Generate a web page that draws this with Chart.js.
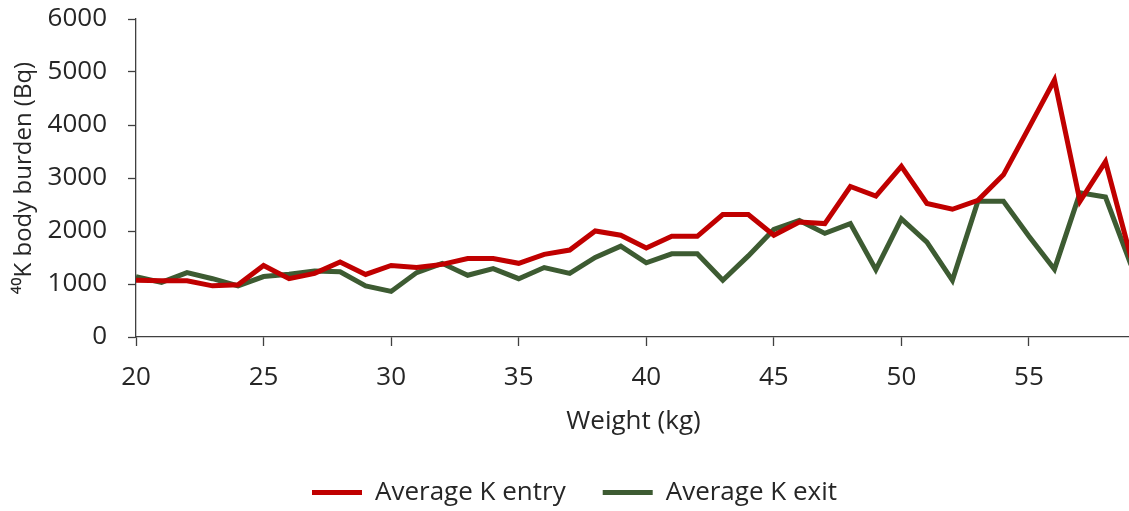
<!DOCTYPE html>
<html>
<head>
<meta charset="utf-8">
<script src="https://cdn.jsdelivr.net/npm/chart.js@4/dist/chart.umd.min.js"></script>
<style>
  html, body { margin: 0; padding: 0; background: #ffffff; overflow: hidden; }
  #wrap { position: relative; width: 1133px; height: 511px; }
</style>
</head>
<body>
<div id="wrap"><canvas id="chart"></canvas></div>
<script>
// Body weight (kg) for each group
const weights = [20, 21, 22, 23, 24, 25, 26, 27, 28, 29,
                 30, 31, 32, 33, 34, 35, 36, 37, 38, 39,
                 40, 41, 42, 43, 44, 45, 46, 47, 48, 49,
                 50, 51, 52, 53, 54, 55, 56, 57, 58, 59];

// Average 40K body burden (Bq) measured at entry
const entryK = [1070, 1060, 1060, 965, 985, 1350, 1100, 1200, 1415, 1180,
                1350, 1310, 1370, 1480, 1480, 1390, 1560, 1640, 2000, 1920,
                1680, 1900, 1900, 2310, 2310, 1920, 2170, 2140, 2840, 2660,
                3220, 2520, 2410, 2580, 3060, 3950, 4850, 2560, 3310, 1500];

// Average 40K body burden (Bq) measured at exit
const exitK = [1140, 1030, 1215, 1100, 965, 1140, 1185, 1245, 1230, 965,
               860, 1215, 1390, 1165, 1290, 1100, 1310, 1200, 1500, 1715,
               1400, 1570, 1570, 1070, 1530, 2030, 2200, 1955, 2140, 1270,
               2230, 1790, 1070, 2560, 2560, 1900, 1280, 2720, 2640, 1360];

const seriesNames = ['Average K entry', 'Average K exit'];
const yTicks = [0, 1000, 2000, 3000, 4000, 5000, 6000];
const xTicks = [20, 25, 30, 35, 40, 45, 50, 55];

const FONT = "'Open Sans', 'Liberation Sans', sans-serif";
const TEXT = '#262626';
const AXIS = '#404040';

const toPoints = vals => weights.map((w, i) => ({ x: w, y: vals[i] }));

new Chart(document.getElementById('chart'), {
  type: 'line',
  data: {
    datasets: [
      {
        label: seriesNames[0],
        data: toPoints(entryK),
        borderColor: '#C00000',
        backgroundColor: '#C00000',
        borderWidth: 5,
        pointRadius: 0,
        tension: 0,
        fill: false
      },
      {
        label: seriesNames[1],
        data: toPoints(exitK),
        borderColor: '#3D5B32',
        backgroundColor: '#3D5B32',
        borderWidth: 5,
        pointRadius: 0,
        tension: 0,
        fill: false
      }
    ]
  },
  options: {
    responsive: true,
    maintainAspectRatio: false,
    animation: false,
    events: [],
    layout: { padding: { left: 18, right: 2, top: 19, bottom: -4.5 } },
    plugins: {
      tooltip: { enabled: false },
      legend: {
        position: 'bottom',
        labels: {
          usePointStyle: true,
          pointStyle: 'line',
          pointStyleWidth: 50,
          boxHeight: 4,
          padding: 37,
          color: TEXT,
          font: { family: FONT, size: 26 }
        }
      }
    },
    scales: {
      x: {
        type: 'linear',
        min: 20,
        max: 59,
        afterFit: s => { s.height = 105.5; s.paddingLeft = 0; s.paddingRight = 0; },
        afterBuildTicks: s => { s.ticks = xTicks.map(v => ({ value: v })); },
        ticks: {
          includeBounds: false,
          color: TEXT,
          padding: 16,
          maxRotation: 0,
          font: { family: FONT, size: 26 }
        },
        grid: {
          drawOnChartArea: false,
          drawTicks: true,
          tickLength: 9,
          tickColor: AXIS,
          tickWidth: 1.3
        },
        border: { display: true, color: AXIS, width: 1.3 },
        title: {
          display: true,
          text: 'Weight (kg)',
          color: TEXT,
          font: { family: FONT, size: 26 },
          padding: { top: 0, bottom: 5 }
        }
      },
      y: {
        min: 0,
        max: 6000,
        afterFit: s => { s.width = 118; s.paddingTop = 0; s.paddingBottom = 0; },
        afterBuildTicks: s => { s.ticks = yTicks.map(v => ({ value: v })); },
        ticks: {
          color: TEXT,
          padding: 21,
          font: { family: FONT, size: 26 },
          callback: v => String(v)
        },
        grid: {
          drawOnChartArea: false,
          drawTicks: true,
          tickLength: 8,
          tickColor: AXIS,
          tickWidth: 1.3
        },
        border: { display: true, color: AXIS, width: 1.3 },
        title: {
          display: true,
          text: '\u2074\u2070K body burden (Bq)',
          color: TEXT,
          font: { family: FONT, size: 24 },
          padding: { top: -8, bottom: 0 }
        }
      }
    }
  }
});
</script>
</body>
</html>
